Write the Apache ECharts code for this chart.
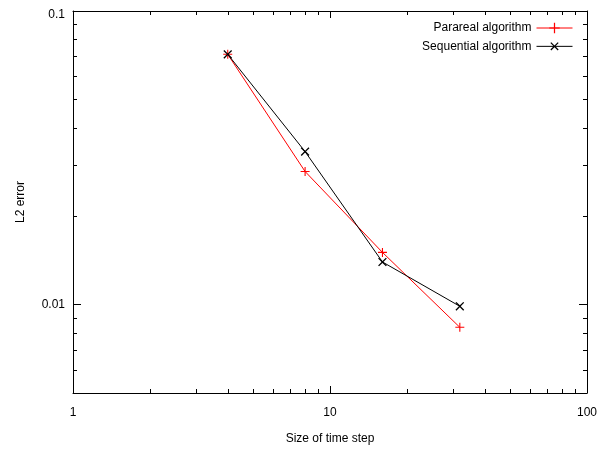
<!DOCTYPE html>
<html><head><meta charset="utf-8">
<script src="https://cdn.jsdelivr.net/npm/echarts@6/dist/echarts.min.js"></script>
<style>html,body{margin:0;padding:0;background:#fff}#c{width:601px;height:455px}</style>
</head><body><div id="c"></div>
<script>
const timeSteps = [4, 8, 16, 32];
const pararealError = [0.0712, 0.0284, 0.01506, 0.00837];
const sequentialError = [0.0712, 0.0332, 0.01397, 0.00987];
const seriesNames = ['Parareal algorithm', 'Sequential algorithm'];
const xTickLabels = ['1', '10', '100'];
const yTickLabels = ['0.01', '0.1'];
const xMinorTicks = [2,3,4,5,6,7,8,9,20,30,40,50,60,70,80,90];
const yMinorTicks = [0.006,0.007,0.008,0.009,0.02,0.03,0.04,0.05,0.06,0.07,0.08,0.09];
const xRange = [1, 100];
const yRange = [0.005, 0.1];

const FONT = 'Liberation Sans, Arial, sans-serif';
const plusPath = 'path://M4.4,0L5.6,0L5.6,4.4L10,4.4L10,5.6L5.6,5.6L5.6,10L4.4,10L4.4,5.6L0,5.6L0,4.4L4.4,4.4Z';

function fmt(labels, topLabel) {
  return function (v) {
    const hit = labels.find(l => Math.abs(Math.log10(v) - Math.log10(+l)) < 1e-6);
    if (!hit) return '';
    return hit === topLabel ? '{top|' + hit + '}' : hit;
  };
}

function baseX(pos, showLabel) {
  return {
    type: 'log', logBase: 10, position: pos, min: xRange[0], max: xRange[1],
    axisLine: { show: true, onZero: false, lineStyle: { color: '#000', width: 1 } },
    axisTick: { show: true, inside: true, length: 7, lineStyle: { color: '#000', width: 1 } },
    axisLabel: { show: showLabel, formatter: fmt(xTickLabels), color: '#000', fontFamily: FONT, fontSize: 12, margin: 14, showMinLabel: true },
    splitLine: { show: false }
  };
}
function baseY(pos, showLabel) {
  return {
    type: 'log', logBase: 10, position: pos, min: yRange[0], max: yRange[1],
    axisLine: { show: true, onZero: false, lineStyle: { color: '#000', width: 1 } },
    axisTick: { show: true, inside: true, length: 8, lineStyle: { color: '#000', width: 1 } },
    axisLabel: {
      show: showLabel, formatter: fmt(yTickLabels, yTickLabels[yTickLabels.length - 1]),
      color: '#000', fontFamily: FONT, fontSize: 12, margin: 8,
      rich: { top: { color: '#000', fontFamily: FONT, fontSize: 12, padding: [7, 0, 0, 0] } }
    },
    splitLine: { show: false }
  };
}

const xBottom = Object.assign(baseX('bottom', true), {
  name: 'Size of time step', nameLocation: 'middle', nameGap: 40,
  nameTextStyle: { color: '#000', fontFamily: FONT, fontSize: 12 }
});
const yLeft = Object.assign(baseY('left', true), {
  name: 'L2 error', nameLocation: 'middle', nameGap: 46, nameRotate: 90,
  nameTextStyle: { color: '#000', fontFamily: FONT, fontSize: 12 }
});

function minorTickRender(axis) {
  return function (params, api) {
    const cs = params.coordSys;
    const v = api.value(axis === 'x' ? 0 : 1);
    const L = 4;
    const st = { stroke: '#000', lineWidth: 1 };
    if (axis === 'x') {
      const px = Math.round(api.coord([v, yRange[0]])[0]) + 0.5;
      return { type: 'group', children: [
        { type: 'line', shape: { x1: px, y1: cs.y + cs.height, x2: px, y2: cs.y + cs.height - L }, style: st },
        { type: 'line', shape: { x1: px, y1: cs.y, x2: px, y2: cs.y + L }, style: st }
      ]};
    } else {
      const py = Math.round(api.coord([xRange[0], v])[1]) + 0.5;
      return { type: 'group', children: [
        { type: 'line', shape: { x1: cs.x, y1: py, x2: cs.x + L, y2: py }, style: st },
        { type: 'line', shape: { x1: cs.x + cs.width, y1: py, x2: cs.x + cs.width - L, y2: py }, style: st }
      ]};
    }
  };
}

const option = {
  animation: false,
  backgroundColor: '#fff',
  grid: { left: 73, right: 14, top: 11, bottom: 62, containLabel: false },
  xAxis: [xBottom, baseX('top', false)],
  yAxis: [yLeft, baseY('right', false)],
  legend: {
    data: seriesNames, orient: 'vertical', align: 'right', right: 23, top: 17,
    itemWidth: 36, itemHeight: 13, itemGap: 5,
    lineStyle: { width: 1 },
    textStyle: { color: '#000', fontFamily: FONT, fontSize: 12 }
  },
  series: [
    {
      type: 'custom', renderItem: minorTickRender('x'), silent: true,
      data: xMinorTicks.map(v => [v, yRange[0]]), clip: false, z: 1
    },
    {
      type: 'custom', renderItem: minorTickRender('y'), silent: true,
      data: yMinorTicks.map(v => [xRange[0], v]), clip: false, z: 1
    },
    {
      name: seriesNames[0], type: 'line',
      data: timeSteps.map((x, i) => [x, pararealError[i]]),
      symbol: plusPath, symbolSize: 9, showSymbol: true,
      lineStyle: { color: '#ff0000', width: 1 },
      itemStyle: { color: '#ff0000' }, z: 3
    },
    {
      name: seriesNames[1], type: 'line',
      data: timeSteps.map((x, i) => [x, sequentialError[i]]),
      symbol: plusPath, symbolSize: 11, symbolRotate: 45, showSymbol: true,
      lineStyle: { color: '#000', width: 1 },
      itemStyle: { color: '#000' }, z: 4
    }
  ]
};
const chart = echarts.init(document.getElementById('c'), null, { renderer: 'canvas' });
chart.setOption(option);
</script></body></html>
